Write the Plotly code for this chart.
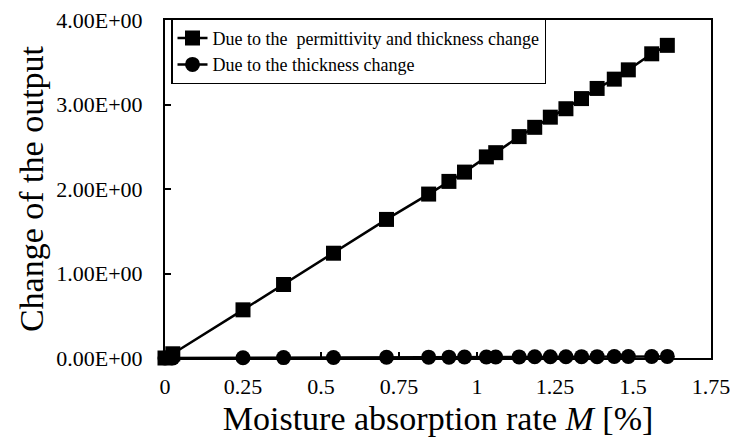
import plotly.graph_objects as go

# Data
m_rate = [0, 0.025, 0.25, 0.38, 0.54, 0.71, 0.845, 0.91, 0.96, 1.03, 1.06,
          1.135, 1.185, 1.235, 1.285, 1.335, 1.385, 1.44, 1.485, 1.56, 1.61]
perm_thick = [0, 0.05, 0.57, 0.87, 1.24, 1.64, 1.94, 2.09, 2.20, 2.38, 2.43,
              2.62, 2.73, 2.85, 2.95, 3.07, 3.19, 3.30, 3.41, 3.60, 3.70]
thick_only = [0, 0.0004, 0.003, 0.005, 0.006, 0.008, 0.010, 0.010, 0.011, 0.012, 0.012,
              0.013, 0.014, 0.014, 0.015, 0.016, 0.016, 0.017, 0.017, 0.018, 0.019]

series_names = ["Due to the&nbsp; permittivity and thickness change",
                "Due to the thickness change"]

y_tickvals = [0, 1, 2, 3, 4]
y_ticktext = ["0.00E+00", "1.00E+00", "2.00E+00", "3.00E+00", "4.00E+00"]
x_tickvals = [0, 0.25, 0.5, 0.75, 1, 1.25, 1.5, 1.75]
x_ticktext = ["0", "0.25", "0.5", "0.75", "1", "1.25", "1.5", "1.75"]

FONT = "Liberation Serif"

fig = go.Figure()
fig.add_trace(go.Scatter(
    x=m_rate, y=thick_only, name=series_names[1], mode="lines+markers",
    line=dict(color="black", width=2.5),
    marker=dict(symbol="circle", size=15, color="black"),
    cliponaxis=False,
))
fig.add_trace(go.Scatter(
    x=m_rate, y=perm_thick, name=series_names[0], mode="lines+markers",
    line=dict(color="black", width=2.5),
    marker=dict(symbol="square", size=15, color="black"),
    cliponaxis=False,
))

fig.update_layout(
    width=733, height=437,
    margin=dict(l=165, r=22, t=20, b=79, autoexpand=False),
    plot_bgcolor="white", paper_bgcolor="white",
    font=dict(family=FONT, color="black", size=22),
    showlegend=True,
    legend=dict(
        x=0.011, y=1.005, xanchor="left", yanchor="top",
        bordercolor="black", borderwidth=1.5, bgcolor="white",
        font=dict(family=FONT, size=18, color="black"),
        traceorder="reversed",
        tracegroupgap=0,
    ),
    xaxis=dict(
        range=[0, 1.75], tickvals=x_tickvals, ticktext=x_ticktext,
        showgrid=False, zeroline=False, automargin=False,
        showline=True, linecolor="black", linewidth=2, mirror=True,
        ticks="inside", ticklen=6, tickwidth=1.5, tickcolor="black",
        tickfont=dict(family=FONT, size=22, color="black"),
        ticklabelstandoff=8,
        title=dict(text="Moisture absorption rate <i>M</i> [%]",
                   font=dict(family=FONT, size=34, color="black"), standoff=10),
    ),
    yaxis=dict(
        range=[0, 4], tickvals=y_tickvals, ticktext=y_ticktext,
        showgrid=False, zeroline=False, automargin=False,
        showline=True, linecolor="black", linewidth=2, mirror=True,
        ticks="inside", ticklen=6, tickwidth=1.5, tickcolor="black",
        tickfont=dict(family=FONT, size=22, color="black"),
        ticklabelstandoff=16,
        title=dict(text="Change of the output",
                   font=dict(family=FONT, size=34, color="black"), standoff=2),
    ),
)

fig.write_html("out.html")
